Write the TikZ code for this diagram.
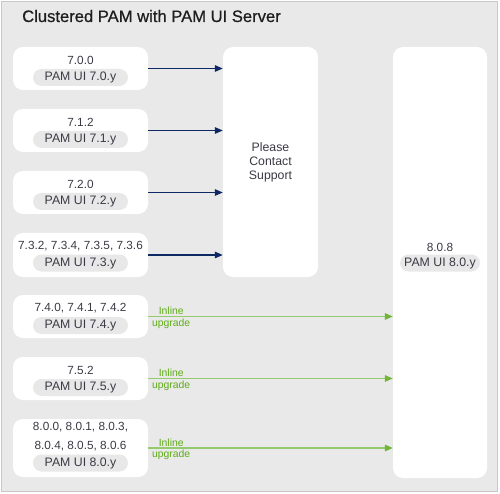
\documentclass[tikz,border=0pt]{standalone}
\usepackage{fontspec}
\setmainfont{Liberation Sans}
\newfontfamily\titlefont[FakeBold=0.6]{Liberation Sans}
\usetikzlibrary{arrows.meta,positioning}

\definecolor{bggrey}{RGB}{233,233,233}
\definecolor{framegrey}{RGB}{200,200,200}
\definecolor{pillgrey}{RGB}{232,232,232}
\definecolor{txtgrey}{RGB}{58,58,68}
\definecolor{navy}{RGB}{14,40,100}
\definecolor{upgline}{RGB}{150,202,110}
\definecolor{upghead}{RGB}{112,182,52}
\definecolor{upgtext}{RGB}{96,172,24}

\tikzset{
  card/.style={fill=white, draw=none, rounded corners=10pt, inner sep=0pt},
  ver/.style={text=txtgrey, font=\fontsize{11.8}{19}\selectfont, inner sep=0pt, align=center},
  pill/.style={fill=pillgrey, rounded corners=8.5pt, minimum width=95pt, minimum height=17pt,
    inner sep=0pt, text=txtgrey, font=\fontsize{12.3}{14}\selectfont},
  tosupport/.style={navy, line width=1.2pt, -{Triangle[length=8pt,width=6.5pt]}},
  inline/.style={upgline, line width=1.5pt, -{Triangle[length=8pt,width=6.5pt,color=upghead]}},
  upglabel/.style={text=upgtext, font=\fontsize{10.4}{11.5}\selectfont, inner sep=0pt, align=center}
}

\begin{document}
\begin{tikzpicture}[x=1pt, y=-1pt]
  \useasboundingbox (0,0) rectangle (500,494);
  \draw[framegrey, fill=bggrey, line width=1pt] (1.5,1.5) rectangle (497.5,491.5);
  \node[anchor=base west, text={rgb,255:red,30;green,30;blue,30}, inner sep=0pt,
    font=\titlefont\fontsize{16.6}{20}\selectfont] (title) at (22,22) {Clustered PAM with PAM UI Server};

  % source versions
  \node[card, minimum width=135pt, minimum height=43pt] (c70) at (80.5,68.5) {};
  \node[ver] (v70) at ([yshift=8.5pt]c70.center) {7.0.0};
  \node[pill] (p70) at ([yshift=-9pt]c70.center) {PAM UI 7.0.y};

  \node[card, minimum width=135pt, minimum height=43pt] (c71) at (80.5,130.5) {};
  \node[ver] (v71) at ([yshift=8.5pt]c71.center) {7.1.2};
  \node[pill] (p71) at ([yshift=-9pt]c71.center) {PAM UI 7.1.y};

  \node[card, minimum width=135pt, minimum height=43pt] (c72) at (80.5,192.5) {};
  \node[ver] (v72) at ([yshift=8.5pt]c72.center) {7.2.0};
  \node[pill] (p72) at ([yshift=-9pt]c72.center) {PAM UI 7.2.y};

  \node[card, minimum width=135pt, minimum height=44pt] (c73) at (80.5,255) {};
  \node[ver] (v73) at ([yshift=8.5pt]c73.center) {7.3.2, 7.3.4, 7.3.5, 7.3.6};
  \node[pill] (p73) at ([yshift=-8pt]c73.center) {PAM UI 7.3.y};

  \node[card, minimum width=135pt, minimum height=43pt] (c74) at (80.5,316.5) {};
  \node[ver] (v74) at ([yshift=8.5pt]c74.center) {7.4.0, 7.4.1, 7.4.2};
  \node[pill] (p74) at ([yshift=-9pt]c74.center) {PAM UI 7.4.y};

  \node[card, minimum width=135pt, minimum height=43pt] (c75) at (80.5,378.5) {};
  \node[ver] (v75) at ([yshift=8.5pt]c75.center) {7.5.2};
  \node[pill] (p75) at ([yshift=-9pt]c75.center) {PAM UI 7.5.y};

  \node[card, minimum width=135pt, minimum height=58pt] (c80) at (80.5,448) {};
  \node[ver] (v80) at ([yshift=11pt]c80.center) {8.0.0, 8.0.1, 8.0.3,\\8.0.4, 8.0.5, 8.0.6};
  \node[pill] (p80) at ([yshift=-15pt]c80.center) {PAM UI 8.0.y};

  % targets
  \node[card, minimum width=95pt, minimum height=230pt] (support) at (270.5,162) {};
  \node[ver, font=\fontsize{12.3}{14}\selectfont] (contact) at (support.center) {Please\\Contact\\Support};

  \node[card, minimum width=94pt, minimum height=431pt] (target) at (440,262.5) {};
  \node[ver] (v808) at (440,247) {8.0.8};
  \node[pill, minimum width=80pt] (p808) at (440,263) {PAM UI 8.0.y};

  % connectors
  \draw[tosupport] (c70.east) -- (c70.east -| support.west);
  \draw[tosupport] (c71.east) -- (c71.east -| support.west);
  \draw[tosupport] (c72.east) -- (c72.east -| support.west);
  \draw[tosupport] (c73.east) -- (c73.east -| support.west);

  \draw[inline] (c74.east) -- (c74.east -| target.west);
  \draw[inline] (c75.east) -- (c75.east -| target.west);
  \draw[inline] (c80.east) -- (c80.east -| target.west);

  \node[upglabel] (u74) at ([xshift=23pt,yshift=-1.5pt]c74.east) {Inline\\upgrade};
  \node[upglabel] (u75) at ([xshift=23pt,yshift=-1.5pt]c75.east) {Inline\\upgrade};
  \node[upglabel] (u80) at ([xshift=23pt,yshift=-1.5pt]c80.east) {Inline\\upgrade};
\end{tikzpicture}
\end{document}
